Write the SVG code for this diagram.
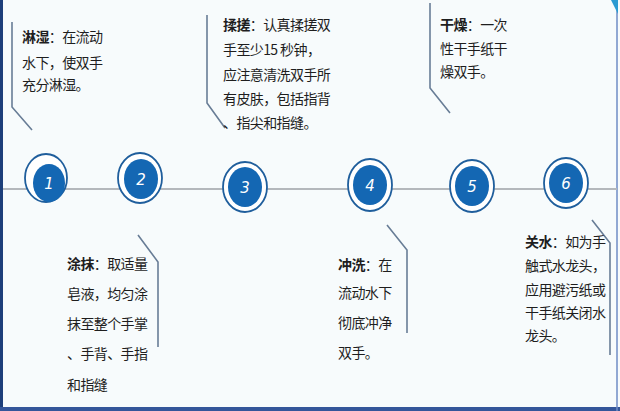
<svg xmlns="http://www.w3.org/2000/svg" width="620" height="411" viewBox="0 0 620 411">
<style>
.t{font-family:"Noto Sans CJK SC","Liberation Sans",sans-serif;font-size:14px;fill:#1e1e1e;letter-spacing:-0.6px}
.b{font-weight:bold}
.br{fill:none;stroke:#687d96;stroke-width:1.6}
.ring{fill:#ffffff;stroke:#1f5e9c;stroke-width:1.8}
.dot{fill:#1467b3}
.n{font-family:"DejaVu Sans","Liberation Sans",sans-serif;font-size:15px;fill:#ffffff;text-anchor:middle;font-style:italic}
</style>
<rect x="0" y="0" width="620" height="411" fill="#f7fbfc"/>
<rect x="0" y="0" width="3" height="411" fill="#1d3f7a"/>
<rect x="0" y="407" width="620" height="4" fill="#34569a"/>
<line x1="617" y1="0" x2="617" y2="411" stroke="#6f8cc6" stroke-width="1.5"/>
<polygon points="611,0 618,0 618,14" fill="#2b9bd2"/>
<g id="connectors">
<line x1="3" y1="189" x2="617" y2="189" stroke="#b4b8bc" stroke-width="2"/>
<path class="br" d="M12,22 V107 L32,130"/>
<path class="br" d="M207,15 V103 L225,128"/>
<path class="br" d="M430,3 V88 L450,113"/>
<path class="br" d="M138,235 L158,262 V347"/>
<path class="br" d="M387,225 L407,250 V333"/>
<path class="br" d="M592,220 L610,243 V355"/>
</g>
<g id="step1">
<ellipse class="ring" cx="46" cy="178" rx="21" ry="24"/>
<ellipse class="dot" cx="49" cy="183" rx="16" ry="19"/>
<text class="n" x="49" y="189">1</text>
</g>
<g id="step2">
<ellipse class="ring" cx="140" cy="178" rx="22" ry="25"/>
<ellipse class="dot" cx="141" cy="179" rx="17" ry="20"/>
<text class="n" x="141" y="185">2</text>
</g>
<g id="step3">
<ellipse class="ring" cx="245" cy="187" rx="22" ry="25"/>
<ellipse class="dot" cx="245" cy="187" rx="17" ry="20"/>
<text class="n" x="245" y="193">3</text>
</g>
<g id="step4">
<ellipse class="ring" cx="370" cy="185" rx="22" ry="26"/>
<ellipse class="dot" cx="370" cy="185" rx="17" ry="20"/>
<text class="n" x="370" y="191">4</text>
</g>
<g id="step5">
<ellipse class="ring" cx="472" cy="186" rx="22" ry="26"/>
<ellipse class="dot" cx="472" cy="186" rx="17" ry="20"/>
<text class="n" x="472" y="192">5</text>
</g>
<g id="step6">
<ellipse class="ring" cx="566" cy="183" rx="22" ry="25"/>
<ellipse class="dot" cx="566" cy="183" rx="17" ry="20"/>
<text class="n" x="566" y="189">6</text>
</g>
<g id="box1">
<text class="t" x="22" y="42"><tspan class="b">淋湿</tspan>：在流动</text>
<text class="t" x="22" y="68">水下，使双手</text>
<text class="t" x="22" y="90">充分淋湿。</text>
</g>
<g id="box3">
<text class="t" x="223" y="30"><tspan class="b">揉搓</tspan>：认真揉搓双</text>
<text class="t" x="223" y="55">手至少15 秒钟，</text>
<text class="t" x="223" y="80">应注意清洗双手所</text>
<text class="t" x="223" y="104">有皮肤，包括指背</text>
<text class="t" x="223" y="128">、指尖和指缝。</text>
</g>
<g id="box5">
<text class="t" x="440" y="30"><tspan class="b">干燥</tspan>：一次</text>
<text class="t" x="440" y="54">性干手纸干</text>
<text class="t" x="440" y="77">燥双手。</text>
</g>
<g id="box2">
<text class="t" x="67" y="269"><tspan class="b">涂抹</tspan>：取适量</text>
<text class="t" x="67" y="299">皂液，均匀涂</text>
<text class="t" x="67" y="329">抹至整个手掌</text>
<text class="t" x="67" y="359">、手背、手指</text>
<text class="t" x="67" y="390">和指缝</text>
</g>
<g id="box4">
<text class="t" x="338" y="270"><tspan class="b">冲洗</tspan>：在</text>
<text class="t" x="338" y="298">流动水下</text>
<text class="t" x="338" y="328">彻底冲净</text>
<text class="t" x="338" y="358">双手。</text>
</g>
<g id="box6">
<text class="t" x="525" y="247"><tspan class="b">关水</tspan>：如为手</text>
<text class="t" x="525" y="271">触式水龙头，</text>
<text class="t" x="525" y="295">应用避污纸或</text>
<text class="t" x="525" y="318">干手纸关闭水</text>
<text class="t" x="525" y="341">龙头。</text>
</g>
</svg>
